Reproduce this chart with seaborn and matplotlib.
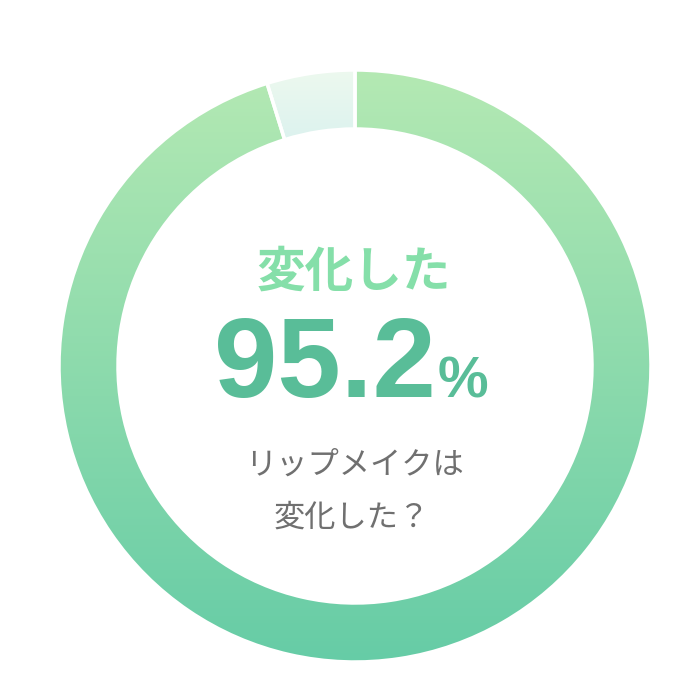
"""Donut chart: did lip make-up change?"""

import numpy as np
import seaborn as sns
import matplotlib.pyplot as plt
from matplotlib.patches import Wedge
from matplotlib.colors import LinearSegmentedColormap

# Data
labels = ['変化した', '変化していない']
values = [95.2, 4.8]
title_text = '変化した'
value_text = '95.2'
unit_text = '%'
question_lines = ['リップメイクは', '変化した？']

sns.set_theme(style='white')
plt.rcParams['font.family'] = ['Noto Sans CJK JP', 'DejaVu Sans']

W = 696
fig = plt.figure(figsize=[6.96, 6.96], dpi=100)
ax = fig.add_axes([0, 0, 1, 1])

cx, cy = 355, W - 366
r_out, width = 296, 59

wedges, _ = ax.pie(values, center=(cx, cy), radius=r_out, startangle=90,
                   counterclock=False, frame=True,
                   wedgeprops=dict(width=width, edgecolor='white', linewidth=2.5))
ax.set_aspect('equal')
ax.set_axis_off()

# Vertical gradients clipped to each wedge
grads = [('#b4e9b3', '#66cca6'), ('#edf9ee', '#dcf2ef')]
grad = np.linspace(0, 1, 256).reshape(-1, 1)
for i, (wedge, (top, bottom)) in enumerate(zip(wedges, grads)):
    cmap = LinearSegmentedColormap.from_list('g', [top, bottom])
    if i == 1:
        ext = [cx - r_out, cx + r_out, cy + r_out - 70, cy + r_out]
    else:
        ext = [cx - r_out, cx + r_out, cy - r_out, cy + r_out]
    im = ax.imshow(grad, cmap=cmap, extent=ext, aspect='auto',
                   origin='upper', zorder=wedge.get_zorder() + 0.1)
    im.set_clip_path(wedge)
    # keep white separators on top
    sep = Wedge(wedge.center, wedge.r, wedge.theta1, wedge.theta2,
                width=wedge.width, facecolor='none', edgecolor='white',
                linewidth=2.5, zorder=wedge.get_zorder() + 0.2)
    ax.add_patch(sep)

ax.set_xlim(0, W)
ax.set_ylim(0, W)

# Center texts
ax.text(354, W - 272, title_text, ha='center', va='center', fontsize=35,
        fontweight='bold', color='#85dfa9')
ax.text(325, W - 397, value_text, ha='center', va='baseline', fontsize=82,
        fontweight='bold', color='#59bd98',
        family=['Liberation Sans', 'DejaVu Sans'])
ax.text(463, W - 397, unit_text, ha='center', va='baseline', fontsize=41,
        fontweight='bold', color='#59bd98',
        family=['Liberation Sans', 'DejaVu Sans'])
ax.text(355, W - 465, question_lines[0], ha='center', va='center', fontsize=22.5,
        color='#707070')
ax.text(352, W - 518, question_lines[1], ha='center', va='center', fontsize=22.5,
        color='#707070')

fig.savefig('out.png', dpi=100, facecolor='white')
